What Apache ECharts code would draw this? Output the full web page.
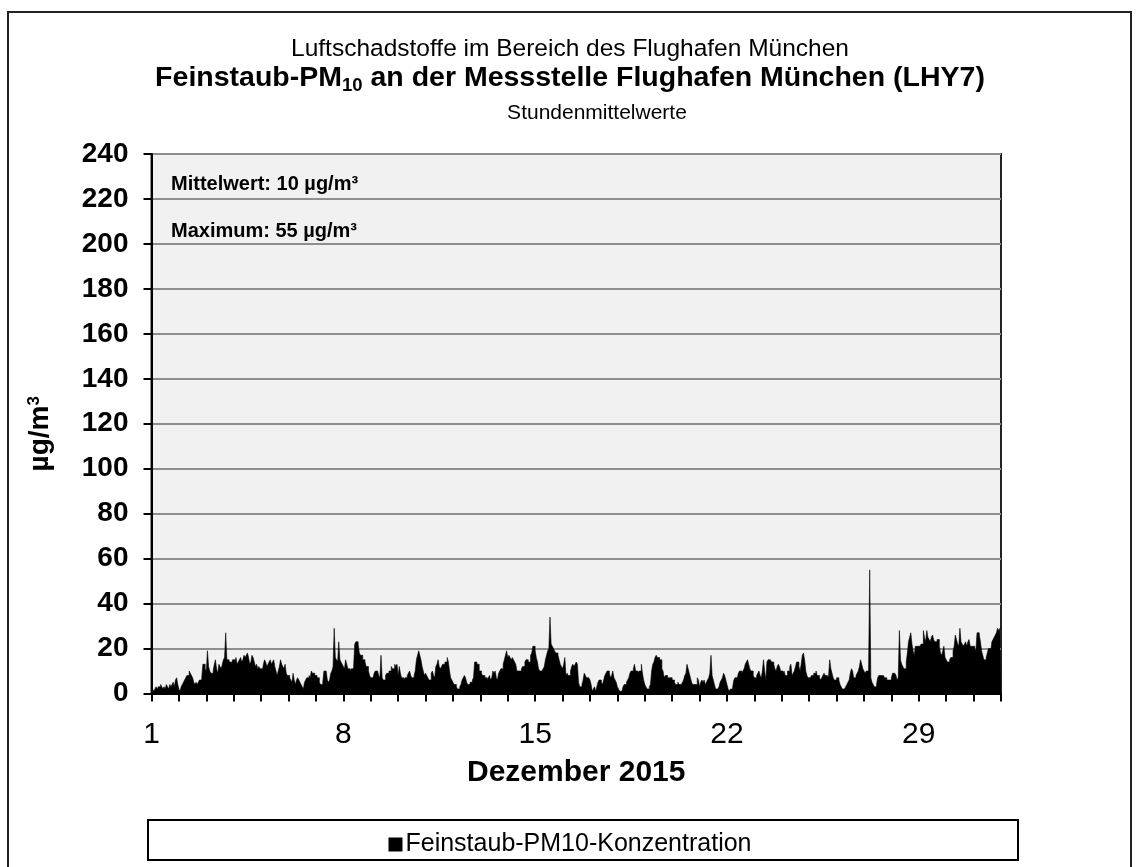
<!DOCTYPE html>
<html>
<head>
<meta charset="utf-8">
<script src="https://cdn.jsdelivr.net/npm/echarts@6/dist/echarts.min.js"></script>
<style>
  html, body { margin: 0; padding: 0; background: #fff; }
  #chart { width: 1140px; height: 867px; }
</style>
</head>
<body>
<div id="chart"></div>
<script>
// Stundenmittelwerte PM10, Dezember 2015 (je Tag 24 Werte)
const day01 = [1,2,1,2,3,2,3,3,4,3,2,3,2,4,3,2,4,3,4,5,3,6,7,4];
const day02 = [2,1,3,4,5,6,7,8,8,10,9,8,7,5,4,5,4,5,6,6,7,13,13,11];
const day03 = [10,19,12,10,9,9,10,13,15,11,9,13,12,11,13,15,16,27,15,15,14,14,13,15];
const day04 = [15,14,16,13,14,15,16,14,15,17,16,17,18,16,13,14,17,16,14,12,13,11,12,11];
const day05 = [11,10,13,15,14,12,13,14,15,13,14,15,12,10,8,10,12,15,13,12,11,13,9,8];
const day06 = [8,7,6,5,9,6,4,6,7,6,5,4,3,2,5,6,7,7,8,7,10,9,9,8];
const day07 = [8,7,7,5,4,4,5,10,10,10,6,5,6,9,10,12,29,16,15,14,23,15,14,13];
const day08 = [12,11,15,13,11,11,10,11,11,12,22,23,23,22,18,17,17,15,15,14,12,12,10,8];
const day09 = [7,7,7,9,10,10,10,8,7,17,7,6,6,8,9,9,10,10,12,11,11,13,12,13];
const day10 = [8,12,9,7,7,6,7,7,8,9,10,8,7,7,8,10,15,17,19,17,15,12,10,8];
const day11 = [9,8,7,6,6,9,10,8,7,12,13,15,12,11,12,13,13,14,14,16,14,10,7,6];
const day12 = [5,4,4,3,2,2,3,4,6,7,8,7,5,4,4,5,5,6,7,14,14,13,13,10];
const day13 = [10,9,8,8,7,7,6,7,8,6,7,10,9,10,7,6,9,10,11,11,13,15,17,19];
const day14 = [16,17,16,15,16,15,14,13,10,10,10,10,11,12,12,14,15,15,14,14,17,18,21,21];
const day15 = [19,16,14,11,10,10,10,11,12,15,17,19,20,34,22,21,20,19,18,18,17,15,13,12];
const day16 = [11,13,16,8,9,8,8,10,12,13,12,13,14,13,5,3,3,4,6,9,8,7,7,7];
const day17 = [6,4,1,2,3,1,3,5,6,6,5,4,6,8,9,10,10,9,7,8,10,7,6,5];
const day18 = [3,2,1,1,1,3,4,4,5,6,7,9,10,10,11,13,10,10,9,10,10,13,9,6];
const day19 = [4,3,2,2,3,4,10,13,14,16,17,16,16,15,15,11,10,7,8,8,7,7,7,7];
const day20 = [6,6,5,4,4,5,4,4,4,5,6,8,9,13,11,9,7,5,4,4,4,4,7,6];
const day21 = [3,5,6,5,6,4,5,6,7,9,17,8,6,4,2,2,2,3,5,6,7,9,8,6];
const day22 = [4,2,1,2,2,3,6,7,7,7,9,10,10,9,10,11,13,14,15,13,11,10,10,8];
const day23 = [7,7,8,9,10,8,7,10,15,10,6,14,15,15,15,14,14,13,11,10,12,13,12,10];
const day24 = [10,9,10,8,8,10,10,12,13,8,9,10,12,14,14,12,10,13,17,18,15,10,8,7];
const day25 = [7,7,8,8,9,9,10,8,8,7,6,7,8,9,8,8,7,8,15,11,9,7,6,6];
const day26 = [7,7,6,4,3,2,2,2,3,4,5,6,9,11,10,7,7,8,9,10,12,15,13,11];
const day27 = [10,9,10,10,9,55,7,5,4,3,3,4,7,8,8,8,8,8,7,7,6,6,6,6];
const day28 = [7,9,9,9,8,6,7,28,15,13,12,11,11,14,18,23,25,27,22,19,17,21,21,21];
const day29 = [21,21,22,22,28,25,23,28,25,24,23,25,26,24,23,23,24,24,21,18,17,19,21,16];
const day30 = [15,14,14,15,16,16,19,21,26,24,22,21,29,23,22,21,22,23,21,23,24,21,21,21];
const day31 = [21,20,19,27,27,26,23,19,17,15,15,16,18,20,20,19,23,24,25,26,27,29,28,29];

const days = [day01, day02, day03, day04, day05, day06, day07, day08, day09, day10,
  day11, day12, day13, day14, day15, day16, day17, day18, day19, day20,
  day21, day22, day23, day24, day25, day26, day27, day28, day29, day30, day31];
const labelDays = [1, 8, 15, 22, 29];
const yTicks = { min: 0, max: 240, step: 20 };

const FONT = '"Liberation Sans", Arial, Helvetica, sans-serif';

// Stunde i -> [i, Wert]; letzter Punkt schliesst die Treppe am Monatsende
const hourly = [].concat(...days);
const seriesData = hourly.map((v, i) => [i, v]);
seriesData.push([hourly.length, hourly[hourly.length - 1]]);

const chart = echarts.init(document.getElementById('chart'), null, { renderer: 'canvas' });

chart.setOption({
  animation: false,
  backgroundColor: '#fff',
  title: [
    {
      text: 'Luftschadstoffe im Bereich des Flughafen München',
      left: 'center', top: 37, padding: 0,
      textStyle: { fontFamily: FONT, fontSize: 24.5, fontWeight: 'normal', color: '#000' }
    },
    {
      text: '{b|Feinstaub-PM}{s|10}{b| an der Messstelle Flughafen München (LHY7)}',
      left: 'center', top: 62, padding: 0,
      textStyle: {
        rich: {
          b: { fontFamily: FONT, fontSize: 28.5, fontWeight: 'bold', color: '#000', lineHeight: 33 },
          s: { fontFamily: FONT, fontSize: 18.5, fontWeight: 'bold', color: '#000', lineHeight: 16, verticalAlign: 'bottom' }
        }
      }
    }
  ],
  legend: {
    top: 827,
    left: 'center',
    icon: 'rect',
    itemWidth: 14,
    itemHeight: 14,
    itemGap: 4,
    textStyle: { fontFamily: FONT, fontSize: 25, color: '#000', padding: [0, 0, 0, -2] },
    data: ['Feinstaub-PM10-Konzentration']
  },
  grid: {
    left: 151.5, right: 139, top: 154, bottom: 173.5,
    show: true,
    backgroundColor: '#f1f1f1',
    borderColor: '#222',
    borderWidth: 2
  },
  xAxis: {
    type: 'value',
    min: 0,
    max: hourly.length,
    interval: 24,
    name: 'Dezember 2015',
    nameLocation: 'middle',
    nameGap: 64,
    nameTextStyle: { fontFamily: FONT, fontSize: 30, fontWeight: 'bold', color: '#000' },
    axisLine: { lineStyle: { color: '#000', width: 2 } },
    axisTick: { show: true, length: 8, lineStyle: { color: '#000', width: 2 } },
    axisLabel: {
      margin: 26,
      fontFamily: FONT, fontSize: 30, color: '#000',
      formatter: v => {
        const d = v / 24 + 1;
        return labelDays.includes(d) ? String(d) : '';
      }
    },
    splitLine: { show: false }
  },
  yAxis: {
    type: 'value',
    min: yTicks.min,
    max: yTicks.max,
    interval: yTicks.step,
    name: '{a|µg/m}{s|3}',
    nameLocation: 'middle',
    nameGap: 96,
    nameTextStyle: {
      padding: [0, 20, 0, 0],
      rich: {
        a: { fontFamily: FONT, fontSize: 28, fontWeight: 'bold', color: '#000', lineHeight: 30 },
        s: { fontFamily: FONT, fontSize: 17, fontWeight: 'bold', color: '#000', lineHeight: 14, verticalAlign: 'top' }
      }
    },
    axisLine: { show: true, lineStyle: { color: '#000', width: 2 } },
    axisTick: { show: true, length: 8, lineStyle: { color: '#000', width: 2 } },
    axisLabel: { margin: 23, fontFamily: FONT, fontSize: 28, fontWeight: 'bold', color: '#000' },
    splitLine: { lineStyle: { color: '#8e8e8e', width: 2 } }
  },
  series: [
    {
      name: 'Feinstaub-PM10-Konzentration',
      type: 'line',
      step: 'end',
      data: seriesData,
      showSymbol: false,
      color: '#000',
      lineStyle: { width: 0.6, color: '#000' },
      areaStyle: { color: '#000', opacity: 1 },
      z: 3
    }
  ],
  graphic: [
    {
      type: 'rect', silent: true, z: -1,
      shape: { x: 8, y: 12, width: 1123, height: 880 },
      style: { fill: 'none', stroke: '#222', lineWidth: 2 }
    },
    {
      type: 'rect', silent: true,
      shape: { x: 148, y: 820, width: 870, height: 40 },
      style: { fill: '#fff', stroke: '#000', lineWidth: 2 },
      z: -1
    },
    {
      type: 'text', x: 597, y: 113,
      style: { text: 'Stundenmittelwerte', fontFamily: FONT, fontSize: 21, fill: '#000', align: 'center', verticalAlign: 'middle' },
      z: 10
    },
    {
      type: 'text', x: 171, y: 184,
      style: { text: 'Mittelwert: 10 µg/m³', fontFamily: FONT, fontSize: 20, fontWeight: 'bold', fill: '#000', verticalAlign: 'middle' },
      z: 10
    },
    {
      type: 'text', x: 171, y: 231,
      style: { text: 'Maximum: 55 µg/m³', fontFamily: FONT, fontSize: 20, fontWeight: 'bold', fill: '#000', verticalAlign: 'middle' },
      z: 10
    }
  ]
});
</script>
</body>
</html>
